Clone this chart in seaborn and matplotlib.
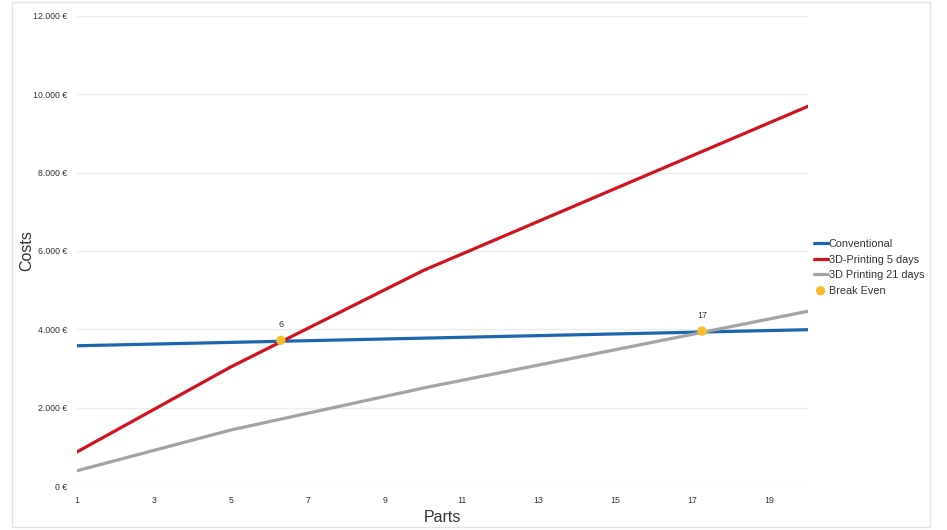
import pandas as pd
import seaborn as sns
import matplotlib.pyplot as plt
from matplotlib.ticker import FuncFormatter
from matplotlib.patches import Rectangle

sns.set_style('white')
plt.rcParams['font.family'] = ['Liberation Sans', 'DejaVu Sans']

# ------------------------------ data ------------------------------
parts_conv = [1, 20]
cost_conv = [3580, 3990]

parts_5d = [1, 5, 10, 20]
cost_5d = [870, 3040, 5500, 9690]

parts_21d = [1, 5, 10, 20]
cost_21d = [390, 1430, 2500, 4460]

be_parts = [6.3, 17.25]
be_cost = [3720, 3955]
be_labels = ['6', '17']

x_ticks = [1, 3, 5, 7, 9, 11, 13, 15, 17, 19]
y_ticks = [0, 2000, 4000, 6000, 8000, 10000, 12000]

blue = '#1a66b1'
red = '#d3121f'
grey = '#a3a3a3'
orange = '#f7bf2c'
txt = '#333333'

# ------------------------------ plot ------------------------------
fig = plt.figure(figsize=(9.47, 5.3), dpi=100)
ax = fig.add_axes([0.0813, 0.083, 0.7717, 0.887])

sns.lineplot(x=parts_conv, y=cost_conv, color=blue, linewidth=2.3, label='Conventional', ax=ax)
sns.lineplot(x=parts_5d, y=cost_5d, color=red, linewidth=2.3, label='3D-Printing 5 days', ax=ax)
sns.lineplot(x=parts_21d, y=cost_21d, color=grey, linewidth=2.3, label='3D Printing 21 days', ax=ax)
sns.scatterplot(x=be_parts, y=be_cost, color=orange, s=45, edgecolor='none', zorder=5,
                label='Break Even', ax=ax)

for px, py, lab in zip(be_parts, be_cost, be_labels):
    ax.annotate(lab, (px, py), xytext=(0, 8), textcoords='offset points',
                ha='center', va='bottom', fontsize=6.5, color=txt)

ax.set_xlim(1, 20)
ax.set_ylim(0, 12000)
ax.set_xticks(x_ticks)
ax.set_yticks(y_ticks)
ax.yaxis.set_major_formatter(FuncFormatter(lambda v, p: f'{int(v):,} €'.replace(',', '.')))
ax.tick_params(axis='both', length=0, labelsize=6.3, labelcolor=txt)
ax.tick_params(axis='y', pad=7)
ax.tick_params(axis='x', pad=7)
ax.grid(axis='y', color='#ececec', linewidth=1)
ax.set_axisbelow(True)
for s in ax.spines.values():
    s.set_visible(False)

ax.set_xlabel('Parts', fontsize=11.5, color=txt, labelpad=4)
ax.set_ylabel('Costs', fontsize=11.5, color=txt, labelpad=-1)

leg = ax.legend(loc='center left', bbox_to_anchor=(1.002, 0.465), frameon=False,
                fontsize=7.8, handlelength=1.3, handletextpad=0.1, labelspacing=0.5,
                borderaxespad=0)
for t in leg.get_texts():
    t.set_color(txt)

# light frame round the whole chart
fig.patches.append(Rectangle((0.013, 0.006), 0.969, 0.99, transform=fig.transFigure,
                             fill=False, edgecolor='#e2e2e2', linewidth=1))

fig.savefig('out.png', dpi=100)
